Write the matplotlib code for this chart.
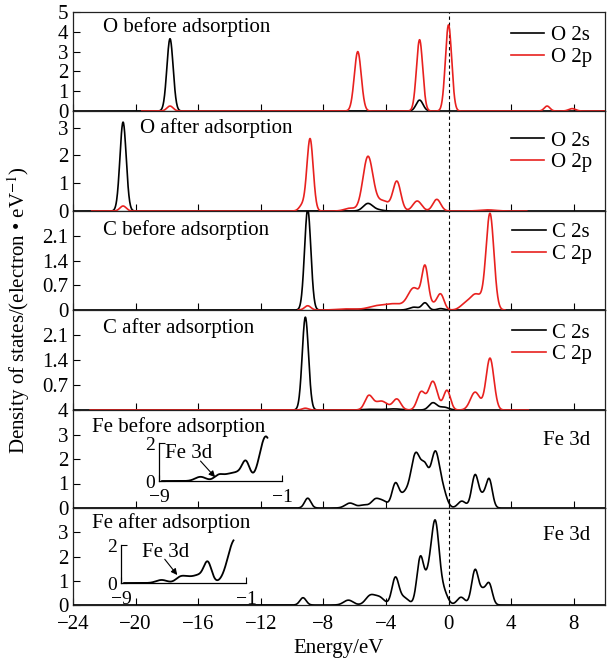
import numpy as np
import matplotlib
matplotlib.use('Agg')
import matplotlib.pyplot as plt
from matplotlib.lines import Line2D

plt.rcParams['font.family'] = ['Liberation Serif', 'DejaVu Serif']
plt.rcParams['mathtext.fontset'] = 'stix'
plt.rcParams['font.size'] = 15

############ peak tables: centre (eV), height, sigma ############

# O before adsorption
o_bef_2s_c = [-17.8, -1.85]
o_bef_2s_h = [3.65, 0.55]
o_bef_2s_w = [0.2, 0.22]
o_bef_2p_c = [-17.8, -5.8, -1.85, 0.0, 6.3, 7.9]
o_bef_2p_h = [0.25, 3.0, 3.6, 4.35, 0.25, 0.12]
o_bef_2p_w = [0.2, 0.22, 0.2, 0.2, 0.18, 0.22]

# O after adsorption
o_aft_2s_c = [-20.8, -5.15, -4.5]
o_aft_2s_h = [3.2, 0.27, 0.04]
o_aft_2s_w = [0.2, 0.3, 0.3]
o_aft_2p_c = [-20.8, -9.35, -8.85, -6.3, -5.15, -4.2, -3.3, -2.0, -0.75, 2.5]
o_aft_2p_h = [0.18, 0.2, 2.6, 0.1, 1.95, 0.36, 1.05, 0.36, 0.42, 0.04]
o_aft_2p_w = [0.2, 0.2, 0.2, 0.35, 0.32, 0.4, 0.25, 0.28, 0.25, 0.5]

# C before adsorption
c_bef_2s_c = [-9.0, -5.5, -2.2, -1.5, -0.5]
c_bef_2s_h = [2.85, 0.02, 0.08, 0.2, 0.04]
c_bef_2s_w = [0.2, 0.5, 0.3, 0.2, 0.2]
c_bef_2p_c = [-9.0, -6.5, -4.5, -3.4, -2.2, -1.5, -1.0, -0.5, 1.0, 1.75, 2.65]
c_bef_2p_h = [0.12, 0.03, 0.12, 0.15, 0.62, 1.1, 0.15, 0.42, 0.12, 0.45, 2.7]
c_bef_2p_w = [0.2, 0.6, 0.6, 0.5, 0.4, 0.2, 0.3, 0.22, 0.3, 0.4, 0.25]

# C after adsorption
c_aft_2s_c = [-9.15, -5.0, -3.5, -1.0, -0.3]
c_aft_2s_h = [2.6, 0.02, 0.03, 0.2, 0.08]
c_aft_2s_w = [0.2, 0.5, 0.5, 0.25, 0.3]
c_aft_2p_c = [-9.15, -5.1, -4.3, -3.3, -1.75, -1.0, -0.1, 1.7, 2.65]
c_aft_2p_h = [0.05, 0.38, 0.25, 0.3, 0.5, 0.8, 0.55, 0.5, 1.45]
c_aft_2p_w = [0.2, 0.25, 0.4, 0.25, 0.25, 0.28, 0.22, 0.3, 0.25]

# Fe before adsorption
fe_bef_c = [-9.0, -6.3, -5.4, -4.7, -4.2, -3.4, -2.8, -2.1, -1.5, -0.85, -0.35, 0.85, 1.7, 2.2, 2.6]
fe_bef_h = [0.4, 0.2, 0.12, 0.3, 0.28, 0.95, 0.55, 2.15, 1.45, 2.2, 0.6, 0.28, 1.35, 0.4, 1.15]
fe_bef_w = [0.2, 0.3, 0.3, 0.25, 0.3, 0.22, 0.3, 0.3, 0.25, 0.27, 0.25, 0.25, 0.22, 0.2, 0.2]

# Fe after adsorption
fe_aft_c = [-9.3, -6.4, -5.0, -4.4, -3.4, -2.85, -1.8, -1.3, -0.85, -0.3, 0.8, 1.7, 2.2, 2.6]
fe_aft_h = [0.3, 0.2, 0.38, 0.3, 1.1, 0.3, 1.95, 0.9, 3.35, 0.5, 0.32, 1.45, 0.5, 0.85]
fe_aft_w = [0.2, 0.3, 0.3, 0.3, 0.22, 0.3, 0.22, 0.22, 0.25, 0.25, 0.25, 0.22, 0.2, 0.2]

# insets (-9 .. -1 eV)
ins_bef_c = [-6.3, -5.1, -4.5, -3.9, -3.35, -2.05]
ins_bef_h = [0.22, 0.32, 0.25, 0.4, 0.95, 2.35]
ins_bef_w = [0.35, 0.3, 0.3, 0.35, 0.25, 0.4]
ins_aft_c = [-6.4, -5.2, -4.7, -4.05, -3.45, -1.7]
ins_aft_h = [0.16, 0.3, 0.22, 0.38, 1.05, 2.3]
ins_aft_w = [0.35, 0.3, 0.3, 0.35, 0.25, 0.45]

x_ticks = [-24, -20, -16, -12, -8, -4, 0, 4, 8]


def dos(e0, e1, cen, hgt, sig):
    e = np.linspace(e0, e1, 2000)
    y = np.zeros_like(e)
    for c, h, s in zip(cen, hgt, sig):
        y += h * np.exp(-(e - c) ** 2 / (2 * s ** 2))
    return e, y


RED = '#e8211f'

fig = plt.figure(figsize=(6.13, 6.6), dpi=100)
edges = [12, 111, 211, 310, 410, 508, 605]
L, R = 73 / 613, 605 / 613
axes = []
for i in range(6):
    b = 1 - edges[i + 1] / 660
    h = (edges[i + 1] - edges[i]) / 660
    ax = fig.add_axes([L, b, R - L, h])
    ax.set_xlim(-24, 10)
    ax.set_xticks(x_ticks)
    ax.tick_params(direction='in', length=5, width=0.8, top=False, right=False, labelsize=15)
    ax.tick_params(axis='x', pad=7)
    ax.axvline(0, color='k', lw=0.8, ls=(0, (3, 2.5)), zorder=1)
    for sp in ax.spines.values():
        sp.set_linewidth(0.9)
        sp.set_color('#222222')
    if i < 5:
        ax.tick_params(labelbottom=False)
    axes.append(ax)

panels = [
    ('O before adsorption', ('O 2s', o_bef_2s_c, o_bef_2s_h, o_bef_2s_w, -24, 10),
     ('O 2p', o_bef_2p_c, o_bef_2p_h, o_bef_2p_w, -19.6, 10), (0, 5), [0, 1, 2, 3, 4, 5], None,
     (0.056, 0.85), 0.86),
    ('O after adsorption', ('O 2s', o_aft_2s_c, o_aft_2s_h, o_aft_2s_w, -24, 10),
     ('O 2p', o_aft_2p_c, o_aft_2p_h, o_aft_2p_w, -22.8, 5), (0, 3.6), [0, 1, 2, 3], None,
     (0.126, 0.83), 0.80),
    ('C before adsorption', ('C 2s', c_bef_2s_c, c_bef_2s_h, c_bef_2s_w, -24, 10),
     ('C 2p', c_bef_2p_c, c_bef_2p_h, c_bef_2p_w, -9.6, 3.6), (0, 2.8), [0, 0.7, 1.4, 2.1],
     ['0', '0.7', '1.4', '2.1'], (0.056, 0.81), 0.88),
    ('C after adsorption', ('C 2s', c_aft_2s_c, c_aft_2s_h, c_aft_2s_w, -24, 10),
     ('C 2p', c_aft_2p_c, c_aft_2p_h, c_aft_2p_w, -22.9, 5.1), (0, 2.8), [0, 0.7, 1.4, 2.1],
     ['', '0.7', '1.4', '2.1'], (0.056, 0.82), 0.87),
]

for ax, (title, s, p, ylim, yt, ytl, tpos, legy) in zip(axes[:4], panels):
    e, y = dos(s[4], s[5], s[1], s[2], s[3])
    ax.plot(e, y, color='k', lw=1.2, zorder=3)
    e, y = dos(p[4], p[5], p[1], p[2], p[3])
    ax.plot(e, y, color=RED, lw=1.2, zorder=3)
    ax.set_ylim(*ylim)
    ax.set_yticks(yt)
    if ytl is not None:
        ax.set_yticklabels(ytl)
    ax.text(tpos[0], tpos[1], title, transform=ax.transAxes, ha='left', va='center', fontsize=15)
    hd = [Line2D([], [], color='k', lw=1.2), Line2D([], [], color=RED, lw=1.2)]
    ax.legend(hd, [s[0], p[0]], loc='upper right', bbox_to_anchor=(0.975, legy), frameon=False,
              fontsize=15, handlelength=1.6, handletextpad=0.3, labelspacing=0.1,
              borderaxespad=0, borderpad=0)

fe_panels = [
    (axes[4], 'Fe before adsorption', fe_bef_c, fe_bef_h, fe_bef_w, (0, 4), [0, 1, 2, 3, 4],
     0.83, 0.69),
    (axes[5], 'Fe after adsorption', fe_aft_c, fe_aft_h, fe_aft_w, (0, 4), [0, 1, 2, 3],
     0.85, 0.72),
]
for ax, title, c, h, w, ylim, yt, ty, fy in fe_panels:
    e, y = dos(-24, 10, c, h, w)
    ax.plot(e, y, color='k', lw=1.2, zorder=3)
    ax.set_ylim(*ylim)
    ax.set_yticks(yt)
    ax.text(0.036, ty, title, transform=ax.transAxes, ha='left', va='center', fontsize=15)
    ax.text(0.972, fy, 'Fe 3d', transform=ax.transAxes, ha='right', va='center', fontsize=15)

axes[5].set_xlabel('Energy/eV', fontsize=15, labelpad=4)

# insets
insets = [
    ([159 / 613, 1 - 481 / 660, 123 / 613, 38 / 660], ins_bef_c, ins_bef_h, ins_bef_w, -8.8, -1.95,
     (-8.6, 1.47), (-6.3, 1.05), (-5.35, 0.2)),
    ([121 / 613, 1 - 583 / 660, 125 / 613, 38 / 660], ins_aft_c, ins_aft_h, ins_aft_w, -8.8, -1.8,
     (-7.65, 1.63), (-6.2, 1.25), (-5.4, 0.42)),
]
for pos, c, h, w, e0, e1, tp, tail, head in insets:
    ia = fig.add_axes(pos)
    ia.patch.set_alpha(0)
    e, y = dos(e0, e1, c, h, w)
    ia.plot(e, y, color='k', lw=1.3, clip_on=False)
    ia.set_xlim(-9, -1)
    ia.set_ylim(0, 2)
    ia.set_xticks([-9, -1])
    ia.set_yticks([0, 2])
    ia.spines['top'].set_visible(False)
    ia.spines['right'].set_visible(False)
    for sp in ('left', 'bottom'):
        ia.spines[sp].set_linewidth(0.9)
    ia.tick_params(direction='in', length=4, width=0.8, labelsize=14)
    ia.tick_params(axis='x', pad=6)
    ia.tick_params(axis='y', pad=3)
    ia.text(tp[0], tp[1], 'Fe 3d', ha='left', va='center', fontsize=15)
    ia.annotate('', xy=head, xytext=tail,
                arrowprops=dict(arrowstyle='-|>', color='k', lw=0.8, mutation_scale=9,
                                shrinkA=0, shrinkB=0))

fig.text(0.03, 0.53, 'Density of states/(electron \u2022 eV$^{-1}$)', rotation=90,
         ha='center', va='center', fontsize=15)

fig.savefig('out.png', dpi=100)
